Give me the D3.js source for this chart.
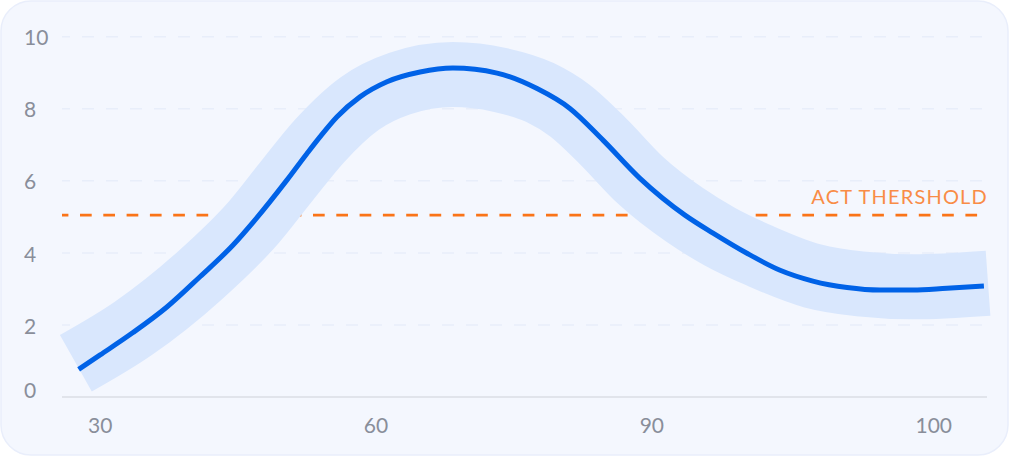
<!DOCTYPE html>
<html>
<head>
<meta charset="utf-8">
<script src="https://cdn.jsdelivr.net/npm/d3@7"></script>
<style>
  html, body { margin: 0; padding: 0; background: #ffffff; }
  svg { display: block; }
  text { font-family: Lato, "Open Sans", sans-serif; }
</style>
</head>
<body>
<svg id="chart" width="1010" height="456"></svg>
<script>
// ---- data (x in tick-index units: 0 = "30", 1 = "60", 2 = "90", 3 = "100") ----
const xTickLabels = ["30", "60", "90", "100"];
const yTicks = [0, 2, 4, 6, 8, 10];
const thresholdValue = 5.05;
const thresholdLabel = "ACT THERSHOLD";

const lineX = [-0.034, 0.044, 0.163, 0.286, 0.406, 0.526, 0.605, 0.721, 0.794, 0.841,
               0.903, 0.986, 1.084, 1.204, 1.323, 1.483, 1.628, 1.747, 1.867, 2.001,
               2.164, 2.266, 2.389, 2.509, 2.628, 2.752, 2.871, 2.991, 3.114, 3.248];
const lineY = [0.77, 1.17, 1.79, 2.50, 3.34, 4.22, 4.91, 6.02, 6.76, 7.22,
               7.78, 8.33, 8.75, 9.02, 9.13, 8.99, 8.56, 8.01, 7.13, 6.07,
               5.05, 4.55, 3.99, 3.52, 3.22, 3.04, 2.97, 2.97, 3.02, 3.08];

const bandX = [-0.044, 0.163, 0.406, 0.602, 0.721, 0.841, 0.986, 1.131, 1.323, 1.494,
               1.639, 1.747, 1.867, 2.001, 2.164, 2.291, 2.436, 2.628, 2.799, 2.991, 3.263];
const bandY = [0.94, 1.90, 3.38, 4.86, 6.00, 7.12, 8.15, 8.70, 8.95, 8.80,
               8.45, 7.95, 7.10, 6.03, 5.05, 4.45, 3.92, 3.36, 3.14, 3.06, 3.16];

// ---- layout ----
const W = 1010, H = 456;
const plotLeft = 62, plotRight = 987;
const svg = d3.select("#chart");

const x = d3.scaleLinear().domain([0, 3]).range([88, 915.5]);
const y = d3.scaleLinear().domain([0, 10]).range([397.1, 36.7]);

// panel
svg.append("rect")
  .attr("x", 1).attr("y", 1).attr("width", W - 3).attr("height", H - 2)
  .attr("rx", 30).attr("ry", 30)
  .attr("fill", "#f4f7fe").attr("stroke", "#e9eefb").attr("stroke-width", 1.5);

// gridlines
svg.append("g").selectAll("line")
  .data(yTicks.filter(d => d > 0))
  .join("line")
  .attr("x1", plotLeft).attr("x2", plotRight)
  .attr("y1", d => y(d)).attr("y2", d => y(d))
  .attr("stroke", "#e8eefa").attr("stroke-width", 1.5)
  .attr("stroke-dasharray", "12 12")
  .attr("stroke-dashoffset", 4);

// x axis line
svg.append("line")
  .attr("x1", plotLeft).attr("x2", plotRight)
  .attr("y1", y(0)).attr("y2", y(0))
  .attr("stroke", "#e1e4eb").attr("stroke-width", 2);

// y tick labels
svg.append("g").selectAll("text")
  .data(yTicks)
  .join("text")
  .attr("x", 24)
  .attr("y", d => d === 0 ? y(d) + 1 : y(d) + 8.6)
  .attr("fill", "#898e9a")
  .attr("font-size", 21)
  .text(d => d);

// x tick labels
svg.append("g").selectAll("text")
  .data(xTickLabels)
  .join("text")
  .attr("x", (d, i) => x(i))
  .attr("y", 433.3)
  .attr("fill", "#898e9a")
  .attr("font-size", 21)
  .text(d => d);

// threshold
svg.append("line")
  .attr("x1", plotLeft).attr("x2", 986)
  .attr("y1", y(thresholdValue)).attr("y2", y(thresholdValue))
  .attr("stroke", "#fa7418").attr("stroke-width", 2.6)
  .attr("stroke-dasharray", "11.7 11.6")
  .attr("stroke-dashoffset", 5.3);

svg.append("text")
  .attr("x", 988).attr("y", 204.3)
  .attr("text-anchor", "end")
  .attr("fill", "#f98c46")
  .attr("font-size", 20)
  .attr("letter-spacing", 1.2)
  .text(thresholdLabel);

// band + line
const bandData = bandX.map((v, i) => [v, bandY[i]]);
const lineData = lineX.map((v, i) => [v, lineY[i]]);
const gen = d3.line().x(d => x(d[0])).y(d => y(d[1])).curve(d3.curveMonotoneX);

svg.append("path")
  .datum(bandData)
  .attr("d", gen)
  .attr("fill", "none")
  .attr("stroke", "#d9e7fd")
  .attr("stroke-width", 65)
  .attr("stroke-linejoin", "round")
  .attr("stroke-linecap", "butt");

svg.append("path")
  .datum(lineData)
  .attr("d", gen)
  .attr("fill", "none")
  .attr("stroke", "#0062e7")
  .attr("stroke-width", 5)
  .attr("stroke-linejoin", "round")
  .attr("stroke-linecap", "butt");
</script>
</body>
</html>
